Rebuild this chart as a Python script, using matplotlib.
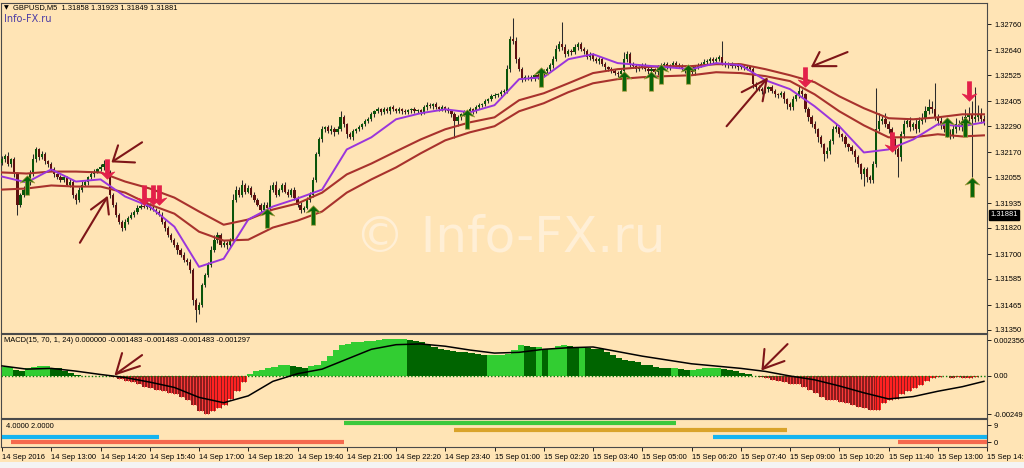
import numpy as np
import matplotlib.pyplot as plt
from matplotlib.path import Path
from matplotlib.patches import Rectangle

plt.rcParams['font.family'] = ['Liberation Sans', 'DejaVu Sans']

# prices are kept in points (0.00001) above BASE
BASE = 1.30000
PT = 0.00001

first_open_pts = 2120
close_pts = [
    2136, 2150, 2113, 2136, 2067, 1928, 1974, 1997, 2030, 2067, 2136, 2182, 2145, 2159, 2127, 2113, 2090, 2067, 2053, 2043,
    2053, 2020, 2030, 1974, 1951, 1997, 2020, 2030, 2053, 2067, 2080, 2090, 2099, 2113, 2080, 1974, 1928, 1882, 1849, 1821,
    1849, 1868, 1882, 1895, 1914, 1923, 1919, 1928, 1914, 1905, 1895, 1882, 1849, 1821, 1789, 1766, 1743, 1720, 1697, 1674,
    1664, 1627, 1489, 1442, 1466, 1558, 1604, 1651, 1720, 1766, 1789, 1743, 1752, 1743, 1766, 1951, 1997, 1974, 2020, 1988,
    2006, 1974, 1951, 1928, 1905, 1928, 1914, 1997, 2020, 1974, 1997, 2020, 1988, 1974, 1997, 1960, 1928, 1905, 1914, 1951,
    1974, 2043, 2159, 2228, 2275, 2284, 2265, 2275, 2261, 2275, 2330, 2298, 2251, 2238, 2265, 2275, 2284, 2298, 2312, 2321,
    2344, 2358, 2367, 2353, 2367, 2358, 2376, 2367, 2358, 2367, 2358, 2353, 2362, 2367, 2358, 2362, 2353, 2376, 2386, 2381,
    2390, 2376, 2367, 2376, 2367, 2358, 2344, 2312, 2330, 2344, 2353, 2358, 2367, 2358, 2376, 2386, 2390, 2404, 2413, 2427,
    2432, 2436, 2446, 2450, 2552, 2691, 2681, 2598, 2552, 2506, 2515, 2515, 2506, 2524, 2515, 2529, 2543, 2552, 2570, 2598,
    2644, 2668, 2654, 2621, 2635, 2630, 2654, 2668, 2644, 2635, 2607, 2621, 2598, 2589, 2598, 2575, 2561, 2552, 2543, 2534,
    2529, 2543, 2598, 2621, 2575, 2566, 2552, 2561, 2570, 2552, 2543, 2552, 2538, 2561, 2570, 2575, 2561, 2570, 2580, 2570,
    2566, 2552, 2543, 2552, 2538, 2561, 2570, 2575, 2584, 2589, 2598, 2589, 2598, 2607, 2580, 2570, 2575, 2566, 2570, 2561,
    2566, 2557, 2561, 2552, 2483, 2469, 2460, 2450, 2460, 2469, 2450, 2436, 2432, 2441, 2413, 2390, 2376, 2413, 2432, 2450,
    2436, 2367, 2330, 2298, 2275, 2238, 2205, 2159, 2173, 2219, 2275, 2284, 2251, 2238, 2205, 2191, 2173, 2145, 2113, 2067,
    2090, 2053, 2043, 2113, 2275, 2312, 2321, 2298, 2275, 2228, 2182, 2145, 2251, 2298, 2312, 2284, 2298, 2275, 2312, 2321,
    2358, 2376, 2367, 2330, 2312, 2298, 2275, 2261, 2247, 2275, 2298, 2284, 2312, 2330, 2344, 2321, 2330, 2344, 2321, 2307,
]
upper_wick_pts = [
    14, 9, 18, 7, 12, 10, 6, 15, 9, 20, 23, 12, 8, 16, 11, 7, 13, 9, 6, 12,
    10, 8, 14, 9, 6, 12, 18, 9, 7, 13, 10, 8, 15, 21, 12, 6, 9, 11, 7, 10,
    12, 8, 14, 9, 11, 7, 16, 10, 8, 13, 9, 6, 12, 8, 10, 7, 9, 14, 8, 11,
    9, 12, 8, 10, 14, 9, 7, 12, 16, 20, 11, 9, 13, 8, 10, 24, 18, 12, 22, 9,
    14, 8, 11, 7, 9, 13, 10, 21, 12, 16, 9, 8, 14, 10, 7, 12, 9, 11, 8, 13,
    10, 14, 9, 12, 16, 8, 11, 18, 9, 13, 28, 10, 7, 12, 9, 8, 11, 7, 10, 9,
    12, 8, 10, 7, 9, 11, 8, 13, 7, 9, 6, 10, 8, 7, 9, 6, 8, 10, 14, 9,
    8, 11, 7, 9, 8, 10, 7, 12, 9, 8, 10, 7, 9, 8, 11, 9, 7, 10, 8, 12,
    9, 8, 10, 12, 20, 14, 95, 18, 12, 10, 9, 8, 11, 7, 9, 10, 8, 12, 9, 14,
    18, 16, 100, 12, 10, 9, 14, 11, 8, 10, 12, 9, 7, 10, 8, 9, 11, 7, 9, 8,
    10, 12, 35, 14, 9, 8, 10, 7, 9, 11, 8, 10, 7, 9, 12, 8, 10, 7, 9, 8,
    11, 9, 7, 10, 8, 9, 12, 10, 14, 9, 11, 8, 10, 12, 74, 10, 8, 9, 7, 10,
    9, 8, 11, 7, 10, 9, 12, 8, 10, 7, 9, 11, 8, 10, 9, 7, 12, 14, 9, 28,
    10, 8, 12, 9, 14, 8, 10, 9, 20, 12, 14, 18, 10, 9, 12, 8, 10, 9, 11, 8,
    12, 10, 9, 14, 190, 40, 16, 30, 14, 10, 9, 12, 18, 22, 15, 20, 12, 25, 18, 30,
    22, 40, 28, 120, 14, 18, 12, 10, 14, 20, 30, 18, 25, 40, 35, 60, 140, 45, 30, 20,
]
lower_wick_pts = [
    9, 14, 8, 12, 10, 46, 12, 9, 15, 10, 8, 13, 11, 9, 12, 10, 7, 14, 9, 11,
    12, 8, 10, 14, 20, 9, 11, 8, 12, 9, 10, 7, 9, 11, 8, 14, 10, 12, 9, 13,
    9, 11, 8, 10, 12, 7, 9, 13, 10, 8, 11, 9, 12, 14, 10, 9, 12, 18, 11, 9,
    14, 16, 22, 55, 18, 12, 10, 9, 13, 11, 14, 9, 12, 20, 10, 8, 11, 9, 12, 10,
    9, 13, 11, 8, 16, 12, 14, 9, 10, 12, 8, 11, 9, 13, 10, 12, 9, 14, 11, 8,
    12, 9, 10, 8, 11, 14, 9, 12, 16, 10, 9, 12, 18, 9, 11, 8, 10, 9, 8, 10,
    9, 11, 8, 10, 7, 9, 12, 8, 10, 9, 11, 8, 9, 10, 8, 9, 11, 8, 10, 9,
    11, 9, 8, 10, 12, 9, 14, 75, 20, 12, 9, 10, 8, 11, 9, 8, 10, 9, 7, 9,
    8, 10, 9, 8, 10, 12, 14, 18, 10, 12, 9, 11, 8, 10, 9, 12, 8, 10, 9, 11,
    10, 9, 12, 14, 10, 11, 9, 12, 10, 13, 9, 11, 8, 10, 12, 9, 11, 8, 10, 9,
    11, 9, 10, 12, 14, 9, 11, 8, 10, 9, 12, 8, 10, 11, 9, 8, 10, 12, 9, 11,
    9, 10, 8, 11, 9, 12, 10, 9, 8, 10, 11, 9, 12, 10, 9, 8, 11, 10, 9, 12,
    10, 9, 11, 8, 16, 12, 10, 14, 9, 11, 10, 12, 14, 9, 16, 20, 12, 10, 9, 11,
    12, 14, 18, 12, 16, 20, 14, 30, 18, 12, 10, 14, 12, 16, 14, 18, 12, 20, 14, 22,
    55, 20, 16, 14, 12, 10, 14, 12, 16, 14, 20, 90, 16, 14, 12, 18, 14, 16, 12, 14,
    12, 14, 16, 12, 18, 22, 14, 20, 16, 12, 18, 14, 16, 12, 20, 268, 14, 18, 16, 12,
]

# indicator lines read every 8 bars
line_bars = [0, 8, 16, 24, 32, 40, 48, 56, 64, 72, 80, 88, 96, 104, 112, 120, 128, 136, 144, 152,
             160, 168, 176, 184, 192, 200, 208, 216, 224, 232, 240, 248, 256, 264, 272, 280, 288, 296, 304, 312, 319]
purple_pts = [2057, 2030, 2090, 2034, 2044, 1965, 1919, 1826, 1641, 1678,
              1859, 1919, 1956, 1997, 2182, 2238, 2321, 2349, 2367, 2353,
              2386, 2506, 2515, 2598, 2621, 2580, 2570, 2561, 2552, 2580,
              2570, 2501, 2460, 2381, 2289, 2168, 2182, 2228, 2298, 2289, 2307]
brown_hi_pts = [2076, 2071, 2080, 2080, 2076, 2034, 2002, 1960, 1896, 1835,
                1859, 1905, 1933, 1983, 2067, 2117, 2173, 2228, 2275, 2307,
                2330, 2409, 2441, 2487, 2534, 2552, 2561, 2566, 2566, 2575,
                2575, 2552, 2524, 2492, 2427, 2372, 2326, 2321, 2330, 2344, 2344]
brown_lo_pts = [1997, 2002, 2016, 2011, 2011, 1983, 1928, 1886, 1803, 1762,
                1766, 1822, 1854, 1896, 1983, 2044, 2099, 2164, 2224, 2261,
                2289, 2358, 2395, 2446, 2487, 2506, 2515, 2520, 2524, 2538,
                2534, 2520, 2497, 2436, 2358, 2293, 2238, 2238, 2252, 2242, 2247]

up_arrow_bars = [8, 86, 101, 151, 175, 202, 211, 214, 223, 307, 313, 315]
up_arrow_pts = [2020, 1868, 1882, 2321, 2515, 2497, 2497, 2529, 2529, 2284, 2284, 2011]
down_arrow_bars = [34, 46, 49, 51, 261, 289, 314]
down_arrow_pts = [2090, 1974, 1974, 1974, 2515, 2215, 2450]

# hand drawn pointers: (bar, points) polylines
pointer_lines = [
    [(45.5, 2215), (36.0, 2127)], [(37.7, 2201), (36.0, 2127), (43.2, 2122)],
    [(25.3, 1752), (34.1, 1960)], [(28.9, 1905), (34.1, 1960), (34.7, 1882)],
    [(274.7, 2631), (263.3, 2566)], [(265.6, 2631), (263.3, 2566), (271.1, 2566)],
    [(235.4, 2289), (248.4, 2506)], [(240.3, 2446), (248.4, 2506), (247.1, 2404)],
]
macd_pointer_lines = [
    [(45.5, 13.7), (37.0, 1.3)], [(39.0, 15.0), (37.0, 1.3), (44.8, 6.5)],
    [(255.2, 20.9), (247.1, 4.6)], [(247.7, 17.7), (247.1, 4.6), (254.2, 9.8)],
]

# MACD histogram every 2 bars and signal every 8 bars, in 0.0001 units
macd_hist = [
    6, 6, 4, 3, 5, 6, 6.5, 6.5, 5.5, 5,
    3.5, 2, 0.5, -0.2, 0.2, 0.3, 0.2, 0.1, -0.5, -2,
    -3, -4, -5, -7, -8, -9, -10, -11, -12, -13.5,
    -16, -19, -23, -25, -23, -21, -19, -15, -10, -4,
    1.5, 3, 4, 5, 6, 7, 7, 6.5, 6, 5,
    6.5, 7, 10, 13, 17, 20, 21, 22, 22.5, 23,
    23, 23.5, 24, 24, 24, 24, 23.5, 23, 22, 20,
    19, 18, 17, 16.5, 16, 15.5, 15, 14.5, 14, 14,
    14, 14, 14.5, 17, 20, 19.5, 19, 19, 18, 18,
    19.5, 20, 19.5, 19, 19, 18.5, 18, 17.5, 16, 14,
    12, 10.5, 10, 9, 7.5, 7, 6, 5.5, 5, 5,
    4.5, 4, 4, 4.5, 5, 5, 5, 4.5, 4, 3,
    2, 1, 0.3, -0.5, -1.5, -2.5, -3.5, -4, -5, -5.5,
    -7, -9, -11, -14, -15.5, -16, -17, -18, -19, -20,
    -21, -22, -22, -18, -16, -15, -12, -10, -8, -6,
    -3, -1.5, -0.5, -0.3, -1, -0.4, -1.5, -1, -0.5, -0.2,
]
macd_signal = [6.6, 4.5, 5.0, 3.2, 1.0, -1.0, -4.0, -7.5, -14, -17.5,
               -13, -3.5, 1.5, 4.5, 11, 17.5, 20.5, 21, 19.5, 17,
               15, 15.5, 17.5, 18.5, 19, 16, 13, 10.5, 8, 6.5,
               5, 3, 0, -2.5, -6.5, -11, -15, -13.5, -10, -7, -3.5]

# bottom indicator segments
seg_start = [0, 3, 111, 147, 231, 291]
seg_end = [51, 111, 219, 255, 320, 320]
seg_level = [2.9, 0, 10, 6.6, 2.9, 0]
seg_color = ['#14B4F0', '#F5694E', '#3CC83C', '#D9A32A', '#14B4F0', '#F5694E']

price_ticks = [1.32760, 1.32640, 1.32525, 1.32405, 1.32290, 1.32170, 1.32055,
               1.31935, 1.31820, 1.31700, 1.31585, 1.31465, 1.31350]
label_bars = [0, 16, 32, 48, 64, 80, 96, 112, 128, 144, 160, 176, 192, 208, 224, 240, 256, 272, 288, 304, 320]
time_labels = ['14 Sep 2016', '14 Sep 13:00', '14 Sep 14:20', '14 Sep 15:40', '14 Sep 17:00',
               '14 Sep 18:20', '14 Sep 19:40', '14 Sep 21:00', '14 Sep 22:20', '14 Sep 23:40',
               '15 Sep 01:00', '15 Sep 02:20', '15 Sep 03:40', '15 Sep 05:00', '15 Sep 06:20',
               '15 Sep 07:40', '15 Sep 09:00', '15 Sep 10:20', '15 Sep 11:40', '15 Sep 13:00',
               '15 Sep 14:20']
last_price = 1.31881

BG = '#FFE4B5'
W, H = 1024, 468
fig = plt.figure(figsize=(W / 100, H / 100), dpi=100, facecolor=BG)


def panel(top, bottom):
    return [1 / W, 1 - bottom / H, 986 / W, (bottom - top) / H]


ax = fig.add_axes(panel(3, 333))
axm = fig.add_axes(panel(334, 418), sharex=ax)
axi = fig.add_axes(panel(419, 447), sharex=ax)

for a in (ax, axm, axi):
    a.set_facecolor(BG)
    for s in a.spines.values():
        s.set_color('#4a4a4a')
        s.set_linewidth(0.8)
    a.yaxis.tick_right()
    a.tick_params(axis='y', length=3, width=0.6, pad=2, labelsize=5.4, colors='black')
    a.tick_params(axis='x', bottom=False, labelbottom=False)

# candles
n = len(close_pts)
xb = np.arange(n)
c = BASE + np.array(close_pts) * PT
o = np.r_[BASE + first_open_pts * PT, c[:-1]]
top = np.maximum(o, c)
bot = np.minimum(o, c)
hi = top + np.array(upper_wick_pts) * PT
lo = bot - np.array(lower_wick_pts) * PT
ax.vlines(xb, lo, hi, color='#2b2b2b', lw=0.75, zorder=3)
ax.bar(xb, np.maximum(top - bot, 0.6 * PT), bottom=bot, width=0.72,
       color=np.where(c >= o, '#0A540A', '#5E1010'), lw=0, zorder=4)

ax.plot(line_bars, BASE + np.array(brown_hi_pts) * PT, color='#A8322D', lw=1.5, zorder=5)
ax.plot(line_bars, BASE + np.array(brown_lo_pts) * PT, color='#A8322D', lw=1.5, zorder=5)
ax.plot(line_bars, BASE + np.array(purple_pts) * PT, color='#9A35DC', lw=1.4, zorder=6)

up_verts = [(0, 1), (0.75, 0.25), (0.22, 0.42), (0.22, -1), (-0.22, -1), (-0.22, 0.42), (-0.75, 0.25), (0, 1)]
codes = [Path.MOVETO] + [Path.LINETO] * 6 + [Path.CLOSEPOLY]
up_marker = Path(up_verts, codes)
down_marker = Path([(vx, -vy) for vx, vy in up_verts], codes)
ax.plot(up_arrow_bars, BASE + np.array(up_arrow_pts) * PT, ls='none', marker=up_marker,
        ms=14, mfc='#0A650A', mec='#A89A3A', mew=0.5, zorder=7)
ax.plot(down_arrow_bars, BASE + np.array(down_arrow_pts) * PT, ls='none', marker=down_marker,
        ms=14, mfc='#E3204A', mec='#E3204A', mew=0.5, zorder=7)

for line in pointer_lines:
    bx, py = zip(*line)
    ax.plot(bx, BASE + np.array(py) * PT, color='#7E1518', lw=1.5, solid_capstyle='round', zorder=8)

ax.text(0.516, 0.29, '\u00a9 Info-FX.ru', transform=ax.transAxes, ha='center', va='center',
        fontsize=36, color='#FFEFD6', family='DejaVu Sans', zorder=1)

ax.set_ylim(1.31336, 1.32857)
ax.set_yticks(price_ticks)
ax.set_yticklabels([f'{p:.5f}' for p in price_ticks])
ax.annotate(f'{last_price:.5f}', xy=(1, last_price), xycoords=('axes fraction', 'data'),
            xytext=(2.5, 0), textcoords='offset points', ha='left', va='center',
            fontsize=5.4, color='white',
            bbox=dict(boxstyle='square,pad=0.2', fc='black', ec='black'), annotation_clip=False)

# MACD panel
h = np.array(macd_hist) * 1e-4
hx = np.arange(len(h)) * 2 + 0.5
prev = np.r_[h[0], h[:-1]]
rising = h >= prev
cols = np.where(h >= 0, np.where(rising, '#32CD32', '#006400'), np.where(rising, '#FF2222', '#8B1C1C'))
axm.bar(hx, h, width=2, color=cols, lw=0, zorder=2)
neg = h < 0
stripe = np.where(rising, '#8B1C1C', '#FF3A3A')[neg]
axm.vlines(hx[neg] - 0.5, 0, h[neg], color=stripe, lw=0.7, zorder=3)
axm.vlines(hx[neg] + 0.5, 0, h[neg], color=stripe, lw=0.7, zorder=3)
axm.axhline(0, color='#0A7A0A', lw=1.0, ls=(0, (1, 1.5)), zorder=4)
axm.plot(line_bars, np.array(macd_signal) * 1e-4, color='black', lw=1.1, zorder=5)
for line in macd_pointer_lines:
    bx, my = zip(*line)
    axm.plot(bx, np.array(my) * 1e-4, color='#7E1518', lw=1.5, solid_capstyle='round', zorder=8)
axm.set_ylim(-0.00275, 0.00275)
axm.set_yticks([0.002356, 0, -0.00249])
axm.set_yticklabels(['0.002356', '0.00', '-0.00249'])

# bottom indicator panel
for s0, s1, lv, col in zip(seg_start, seg_end, seg_level, seg_color):
    axi.hlines(lv, s0, s1, color=col, lw=3, zorder=3)
axi.set_ylim(-2.6, 12.2)
axi.set_yticks([9, 0])
axi.set_yticklabels(['9', '0'])
axi.set_xticks(label_bars)
axi.set_xticklabels(time_labels)
axi.tick_params(axis='x', bottom=True, labelbottom=True, length=3, width=0.6, pad=2,
                labelsize=5.4, colors='black')
for lab in axi.get_xticklabels():
    lab.set_ha('left')
ax.set_xlim(-0.33, 320)


def ftext(px, py, s, **kw):
    fig.text(px / W, 1 - py / H, s, va='center', ha='left', **kw)


ftext(4, 8, '\u25bc', fontsize=4.5, color='black', family='DejaVu Sans')
ftext(13, 8, 'GBPUSD,M5  1.31858 1.31923 1.31849 1.31881', fontsize=5.4, color='black')
ftext(4, 19, 'Info-FX.ru', fontsize=7, color='#4B3CA6', family='DejaVu Sans')
ftext(4, 341, 'MACD(15, 70, 1, 24) 0.000000 -0.001483 -0.001483 -0.001483 -0.001297',
      fontsize=5.4, color='black')
ftext(6, 426, '4.0000 2.0000', fontsize=5.4, color='black')

fig.patches.append(Rectangle((0, 0), 1, 6 / H, transform=fig.transFigure, fc='#F4F4F4', ec='none'))

fig.savefig('out.png', dpi=100, facecolor=BG)
